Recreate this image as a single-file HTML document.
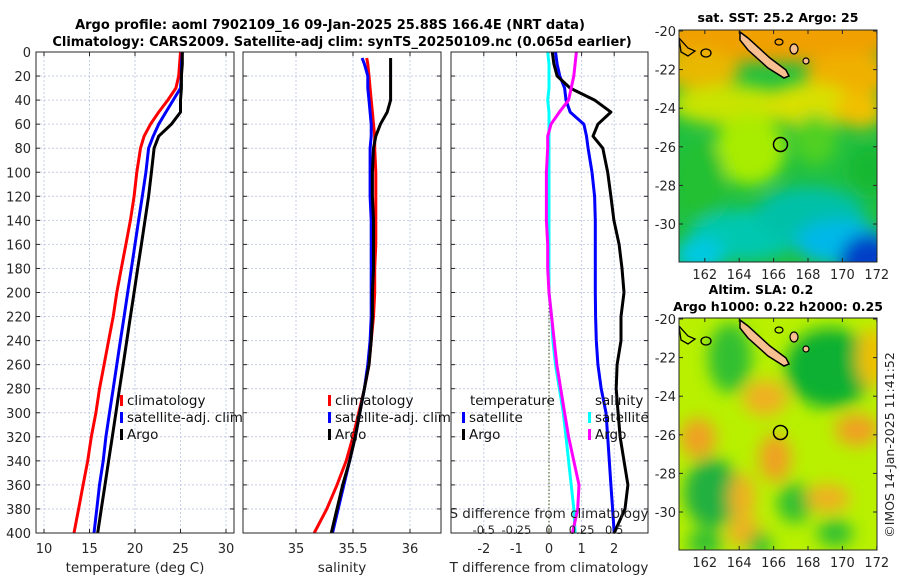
<!DOCTYPE html>
<html><head><meta charset="utf-8">
<style>
body{margin:0;background:#fff;}
svg{font-family:"DejaVu Sans","Liberation Sans",sans-serif;}
</style></head>
<body>
<svg id="fig" width="900" height="580" viewBox="0 0 900 580" xmlns="http://www.w3.org/2000/svg">
<defs>
<filter id="blur1" x="-20%" y="-20%" width="140%" height="140%"><feGaussianBlur stdDeviation="8"/></filter>
<clipPath id="clipTop"><rect x="679" y="30" width="198" height="232"/></clipPath>
<clipPath id="clipBot"><rect x="679" y="318" width="198" height="232"/></clipPath>
</defs>
<g id="root"></g>
<text x="330" y="29" text-anchor="middle" font-weight="bold" font-size="13" fill="#000">Argo profile: aoml 7902109_16 09-Jan-2025 25.88S 166.4E (NRT data)</text>
<text x="342" y="46" text-anchor="middle" font-weight="bold" font-size="13" fill="#000">Climatology: CARS2009. Satellite-adj clim: synTS_20250109.nc (0.065d earlier)</text>
<text x="778" y="22" text-anchor="middle" font-weight="bold" font-size="12.5" fill="#000">sat. SST: 25.2 Argo: 25</text>
<text x="761" y="294" text-anchor="middle" font-weight="bold" font-size="12.5" fill="#000">Altim. SLA: 0.2</text>
<text x="778" y="311" text-anchor="middle" font-weight="bold" font-size="12.5" fill="#000">Argo h1000: 0.22 h2000: 0.25</text>
<text transform="translate(894,445) rotate(-90)" text-anchor="middle" font-size="12.5" fill="#262626">©IMOS 14-Jan-2025 11:41:52</text>
</svg>
<script>
// ---- data ----
const depths = [0,10,20,30,40,50,60,70,80,100,120,140,160,180,200,220,240,260,280,300,320,340,360,380,400];
const tempClim = [25.0,24.9,24.8,24.5,23.6,22.6,21.7,21.0,20.6,20.2,19.9,19.5,19.0,18.5,18.0,17.6,17.1,16.6,16.1,15.7,15.2,14.8,14.3,13.8,13.3];
const tempSat  = [25.2,25.1,25.1,25.0,24.2,23.4,22.6,22.0,21.5,21.2,20.8,20.4,20.0,19.6,19.2,18.8,18.4,18.0,17.6,17.2,16.8,16.5,16.1,15.8,15.5];
const tempArgo = [25.2,25.2,25.1,25.1,25.0,25.0,24.0,22.6,22.1,21.8,21.5,21.1,20.7,20.3,19.9,19.5,19.1,18.7,18.3,17.9,17.5,17.1,16.7,16.3,15.9];
const salDepths = [5,10,20,30,40,50,60,70,80,100,120,140,160,180,200,220,240,260,280,300,320,340,360,380,400];
const salClim = [35.62,35.63,35.64,35.65,35.66,35.67,35.68,35.69,35.69,35.70,35.70,35.70,35.70,35.69,35.69,35.68,35.66,35.64,35.60,35.55,35.50,35.44,35.36,35.27,35.16];
const salSat  = [35.58,35.60,35.63,35.63,35.64,35.65,35.66,35.66,35.65,35.65,35.65,35.66,35.66,35.66,35.66,35.66,35.65,35.63,35.60,35.56,35.52,35.47,35.42,35.37,35.32];
const salArgo = [35.83,35.83,35.83,35.83,35.83,35.80,35.74,35.70,35.68,35.67,35.67,35.68,35.68,35.68,35.67,35.67,35.66,35.64,35.60,35.56,35.52,35.47,35.41,35.36,35.31];
const tDiffSat  = [0.2,0.25,0.33,0.48,0.52,0.65,1.07,1.15,1.2,1.32,1.4,1.42,1.42,1.42,1.42,1.43,1.45,1.5,1.6,1.75,1.8,1.85,1.9,1.95,2.0];
const tDiffArgo = [0.1,0.15,0.25,0.65,1.4,1.9,1.5,1.35,1.65,1.8,1.9,1.99,2.15,2.24,2.3,2.21,2.21,2.09,2.06,2.12,2.18,2.3,2.42,2.33,2.0];
const sDiffSat  = [-0.01,0.0,0.0,0.0,-0.01,0.0,0.0,0.0,0.0,0.0,0.0,0.0,0.0,0.0,0.0,0.02,0.03,0.05,0.08,0.11,0.13,0.15,0.17,0.19,0.2];
const sDiffArgo = [0.21,0.2,0.19,0.17,0.15,0.08,0.015,-0.01,-0.01,-0.02,-0.02,-0.02,-0.01,-0.01,0.0,0.02,0.04,0.06,0.09,0.12,0.15,0.19,0.23,0.22,0.18];
const depthTicks = [0,20,40,60,80,100,120,140,160,180,200,220,240,260,280,300,320,340,360,380,400];
const tempTicks = [10,15,20,25,30];
const salTicks = [35,35.5,36];
const tDiffTicks = [-2,-1,0,1,2];
const sDiffTicks = [-0.5,-0.25,0,0.25,0.5];
const sDiffTickLabels = ['-0.5','-0.25','0','0.25','0.5'];
const lonTicks = [162,164,166,168,170,172];
const latTicks = [-20,-22,-24,-26,-28,-30];

const NS='http://www.w3.org/2000/svg';
const root=document.getElementById('root');
function mk(tag,attrs,parent){const e=document.createElementNS(NS,tag);for(const k in attrs)e.setAttribute(k,attrs[k]);(parent||root).appendChild(e);return e;}
const PT=52, PB=533;
const yD = d => PT + d*(PB-PT)/400;
const panels=[
 {x0:36,x1:234,sx:v=>44+(v-10)*9.1,ticks:tempTicks,lab:'temperature (deg C)',name:'temperature-panel',lx:135},
 {x0:243,x1:441,sx:v=>296+(v-35)*114,ticks:salTicks,lab:'salinity',name:'salinity-panel',lx:342},
 {x0:451,x1:648,sx:v=>549+v*32.6,ticks:tDiffTicks,lab:'T difference from climatology',name:'difference-panel',lx:549}
];
panels.forEach((p,i)=>{
  const g=mk('g',{});
  
  
  mk('rect',{x:p.x0,y:PT,width:p.x1-p.x0,height:PB-PT,fill:'#fff'},g);
  depthTicks.forEach(d=>{
    const l=mk('line',{x1:p.x0,x2:p.x1,y1:yD(d),y2:yD(d),stroke:'#c6cde6','stroke-dasharray':'2,2','stroke-width':1},g);
    
    
    mk('line',{x1:p.x0,x2:p.x0+4,y1:yD(d),y2:yD(d),stroke:'#262626'},g);
    mk('line',{x1:p.x1-4,x2:p.x1,y1:yD(d),y2:yD(d),stroke:'#262626'},g);
    if(i===0){const t=mk('text',{x:p.x0-5,y:yD(d)+5,'text-anchor':'end','font-size':13,fill:'#262626'},g);t.textContent=d;
      }
  });
  p.ticks.forEach(v=>{
    const x=p.sx(v);
    mk('line',{x1:x,x2:x,y1:PT,y2:PB,stroke:'#c6cde6','stroke-dasharray':'2,2'},g);
    mk('line',{x1:x,x2:x,y1:PB-4,y2:PB,stroke:'#262626'},g);
    mk('line',{x1:x,x2:x,y1:PT,y2:PT+4,stroke:'#262626'},g);
    const t=mk('text',{x:x,y:PB+20,'text-anchor':'middle','font-size':13,fill:'#262626'},g);t.textContent=v;
    
  });
  const lt=mk('text',{x:p.lx,y:PB+39,'text-anchor':'middle','font-size':13.5,fill:'#262626'},g);lt.textContent=p.lab;
  
});
const zl=mk('line',{x1:549,x2:549,y1:PT,y2:PB,stroke:'#556b2f','stroke-dasharray':'1.5,2','stroke-width':1.2});


function series(xs,ds,sx,color,name){
  const pts=xs.map((v,i)=>sx(v).toFixed(1)+','+yD(ds[i]).toFixed(1)).join(' ');
  const e=mk('polyline',{points:pts,fill:'none',stroke:color,'stroke-width':3,'stroke-linejoin':'round'});
  
  
}
const sT=panels[0].sx, sS=panels[1].sx, sTd=panels[2].sx, sSd=v=>549+v*130.4;
series(tempClim,depths,sT,'#ff0000','temp-climatology-line');
series(tempSat,depths,sT,'#0000ff','temp-satellite-line');
series(tempArgo,depths,sT,'#000000','temp-argo-line');
series(salClim,salDepths,sS,'#ff0000','sal-climatology-line');
series(salSat,salDepths,sS,'#0000ff','sal-satellite-line');
series(salArgo,salDepths,sS,'#000000','sal-argo-line');
series(sDiffSat,depths,sSd,'#00ffff','sdiff-satellite-line');
series(tDiffSat,depths,sTd,'#0000ff','tdiff-satellite-line');
series(tDiffArgo,depths,sTd,'#000000','tdiff-argo-line');
series(sDiffArgo,depths,sSd,'#ff00ff','sdiff-argo-line');

panels.forEach(p=>{mk('rect',{x:p.x0,y:PT,width:p.x1-p.x0,height:PB-PT,fill:'none',stroke:'#262626','stroke-width':1});});

const st=mk('text',{x:549,y:518,'text-anchor':'middle','font-size':13.5,fill:'#262626'});st.textContent='S difference from climatology';

sDiffTicks.forEach((v,i)=>{const t=mk('text',{x:sSd(v),y:534,'text-anchor':'middle','font-size':11.5,fill:'#262626'});t.textContent=sDiffTickLabels[i];
 });

function legend(x,y,items,name){
  const g=mk('g',{});
  
  
  items.forEach((it,i)=>{
    const yy=y+i*17;
    if(it[1])mk('rect',{x:x,y:yy-10,width:3,height:11,fill:it[1]},g);
    const t=mk('text',{x:x+(it[1]?7:0),y:yy,'font-size':13.5,fill:'#111'},g);t.textContent=it[0];
  });
}
legend(120,405,[['climatology','#ff0000'],['satellite-adj. clim','#0000ff'],['Argo','#000']],'temp-legend');
legend(328,405,[['climatology','#ff0000'],['satellite-adj. clim','#0000ff'],['Argo','#000']],'sal-legend');
legend(470,405,[['temperature',null]],'tdiff-legend-title');
legend(462,422,[['satellite','#0000ff'],['Argo','#000']],'tdiff-legend');
legend(595,405,[['salinity',null]],'sdiff-legend-title');
legend(588,422,[['satellite','#00ffff'],['Argo','#ff00ff']],'sdiff-legend');

const lonX=l=>679+(l-160.5)*17.2;
const latY=(la,top)=>top+1+(-20-la)*19.3;
function map(top,clip,bg,blobs,name){
  const g=mk('g',{'clip-path':'url(#'+clip+')'});
  
  
  mk('rect',{x:679,y:top,width:198,height:232,fill:bg},g);
  const bg2=mk('g',{filter:'url(#blur1)'},g);
  blobs.forEach(b=>mk('ellipse',{cx:b[0],cy:top+b[1],rx:b[2],ry:b[3],fill:b[4]},bg2));
  mk('path',{d:`M740 ${top+2} L748 ${top+8} L770 ${top+28} L786 ${top+40} L789 ${top+46} L784 ${top+48} L768 ${top+38} L748 ${top+20} L740 ${top+10} Z`,fill:'#f8c090',stroke:'#000','stroke-width':1.5},g);
  mk('path',{d:`M679 ${top+8} L688 ${top+18} L695 ${top+21} L688 ${top+26} L681 ${top+22} Z`,fill:'none',stroke:'#000','stroke-width':1.3},g);
  mk('ellipse',{cx:706,cy:top+23,rx:5,ry:4,fill:'none',stroke:'#000','stroke-width':1.3},g);
  mk('ellipse',{cx:794,cy:top+19,rx:4,ry:5,fill:'#f8c090',stroke:'#000','stroke-width':1.2},g);
  mk('ellipse',{cx:806,cy:top+31,rx:3,ry:3,fill:'#f8c090',stroke:'#000','stroke-width':1.2},g);
  mk('ellipse',{cx:779,cy:top+12,rx:4,ry:3,fill:'none',stroke:'#000','stroke-width':1.2},g);
  const c=mk('circle',{cx:lonX(166.4),cy:latY(-25.88,top),r:7,fill:'none',stroke:'#000','stroke-width':1.5},g);
  
  
  mk('rect',{x:679,y:top,width:198,height:232,fill:'none',stroke:'#262626'});
  lonTicks.forEach(l=>{const x=lonX(l);mk('line',{x1:x,x2:x,y1:top+232,y2:top+228,stroke:'#262626'});mk('line',{x1:x,x2:x,y1:top,y2:top+4,stroke:'#262626'});
    const t=mk('text',{x:x,y:top+249,'text-anchor':'middle','font-size':13,fill:'#262626'});t.textContent=l;
    });
  latTicks.forEach(la=>{const y=latY(la,top);mk('line',{x1:679,x2:683,y1:y,y2:y,stroke:'#262626'});mk('line',{x1:873,x2:877,y1:y,y2:y,stroke:'#262626'});
    const t=mk('text',{x:676,y:y+5,'text-anchor':'end','font-size':13,fill:'#262626'});t.textContent=la;
    });
}
map(30,'clipTop','#20c040',[
 [780,5,130,28,'#f0a000'],[700,40,40,20,'#e8b800'],[850,45,45,22,'#f0b000'],
 [730,75,60,20,'#c8e400'],[810,75,45,22,'#d8e000'],[860,80,25,18,'#f0c000'],
 [750,120,35,35,'#a8ec00'],[815,110,22,25,'#50d020'],[868,140,20,25,'#18b830'],
 [700,150,25,40,'#20c030'],[745,205,55,25,'#00c8b0'],[810,185,55,28,'#00c0a8'],
 [840,212,45,22,'#00b8e8'],[868,232,28,28,'#0040c8'],[700,225,25,18,'#00c8e0']],'sst-map');
map(318,'clipBot','#b8f000',[
 [730,40,22,35,'#30c030'],[830,50,45,40,'#10b030'],[872,40,15,30,'#f0c000'],
 [765,80,22,18,'#f0b020'],[698,120,18,20,'#f0a020'],[857,112,22,16,'#f0a020'],
 [775,140,16,24,'#f0a020'],[712,175,28,35,'#20b040'],[742,180,13,25,'#f0b020'],
 [795,185,18,20,'#30c030'],[828,180,22,14,'#f0b020'],[835,215,18,14,'#30c030'],
 [745,215,18,14,'#f0b020'],[705,225,18,14,'#30c030'],[760,228,12,14,'#30c030']],'sla-map');
</script>
</body></html>
